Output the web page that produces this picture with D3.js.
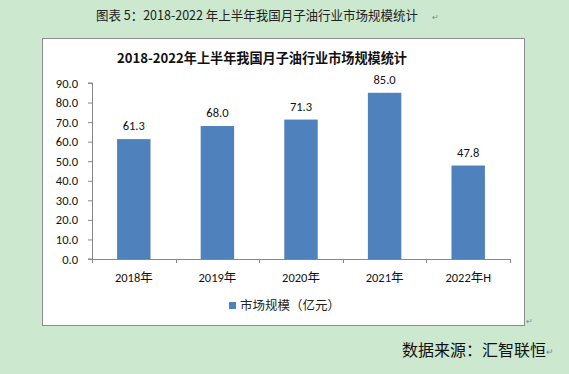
<!DOCTYPE html>
<html><head><meta charset="utf-8">
<script src="https://cdn.jsdelivr.net/npm/d3@7"></script>
<style>
body{margin:0;background:#cce8cf;}
svg{display:block;}
</style></head>
<body>
<svg id="c" width="569" height="374"></svg>
<script>
const categories = ["2018年","2019年","2020年","2021年","2022年H"];
const values = [61.3, 68.0, 71.3, 85.0, 47.8];
const yTicks = [0,10,20,30,40,50,60,70,80,90];
const seriesName = "市场规模（亿元）";
const docTitle = "图表 5：2018-2022 年上半年我国月子油行业市场规模统计";
const chartTitle = "2018-2022年上半年我国月子油行业市场规模统计";
const sourceText = "数据来源：汇智联恒";

(function(){
const svg = d3.select("#c");
const cjk = "'Noto Sans CJK SC', 'Noto Sans', sans-serif";
const lat = "Calibri, 'Liberation Sans', 'Noto Sans CJK SC', sans-serif";

svg.append("rect").attr("width",569).attr("height",374).attr("fill","#cce8cf");

svg.append("text").attr("x",96).attr("y",20).attr("textLength",322).attr("lengthAdjust","spacingAndGlyphs")
  .attr("font-family",cjk).attr("font-size",13).attr("fill","#222").text(docTitle);
svg.append("text").attr("x",432).attr("y",20).attr("font-family",cjk).attr("font-size",8).attr("fill","#888").text("↵");

// chart box
svg.append("rect").attr("x",42.5).attr("y",38.5).attr("width",482).attr("height",287)
  .attr("fill","#fff").attr("stroke","#8c8c8c").attr("stroke-width",1);

svg.append("text").attr("x",117).attr("y",63).attr("textLength",290).attr("lengthAdjust","spacingAndGlyphs")
  .attr("font-family",cjk).attr("font-size",13.5).attr("font-weight","bold").attr("fill","#111").text(chartTitle);

const pLeft=92, pRight=510, pTop=83, pBottom=259;
const x = d3.scaleBand().domain(categories).range([pLeft,pRight]).paddingInner(0.6).paddingOuter(0.3);
const y = d3.scaleLinear().domain([0,90]).range([pBottom,pTop]);

const g = svg.append("g");
const ya = g.append("g").attr("transform",`translate(${pLeft},0)`)
  .call(d3.axisLeft(y).tickValues(yTicks).tickFormat(d3.format(".1f")).tickSize(4).tickPadding(10));
ya.select(".domain").attr("stroke","#888").attr("d",`M-4,${pTop}H0.5V${pBottom}H-4`);
ya.selectAll(".tick line").attr("stroke","#888");
ya.selectAll("text").attr("font-family",lat).attr("font-size",12.5).attr("fill","#111");

const xa = g.append("g").attr("transform",`translate(0,${pBottom})`);
xa.append("line").attr("x1",pLeft).attr("x2",pRight).attr("y1",0.5).attr("y2",0.5).attr("stroke","#888");
const step = (pRight-pLeft)/categories.length;
d3.range(categories.length+1).forEach(i=>{
  const xx = Math.round(pLeft+i*step)+0.5;
  xa.append("line").attr("x1",xx).attr("x2",xx).attr("y1",0).attr("y2",4).attr("stroke","#888");
});
xa.selectAll("text.cat").data(categories).join("text").attr("class","cat")
  .attr("x",d=>x(d)+x.bandwidth()/2).attr("y",23).attr("text-anchor","middle")
  .attr("font-family",lat).attr("font-size",12.5).attr("fill","#111").text(d=>d);

g.selectAll("rect.bar").data(values).join("rect").attr("class","bar")
  .attr("x",(d,i)=>x(categories[i])).attr("width",x.bandwidth())
  .attr("y",d=>y(d)).attr("height",d=>pBottom-y(d)).attr("fill","#4f81bd");
g.selectAll("text.lbl").data(values).join("text").attr("class","lbl")
  .attr("x",(d,i)=>x(categories[i])+x.bandwidth()/2).attr("y",d=>y(d)-9)
  .attr("text-anchor","middle").attr("font-family",lat).attr("font-size",12.5).attr("fill","#111")
  .text(d=>d3.format(".1f")(d));

svg.append("rect").attr("x",229).attr("y",302).attr("width",7).attr("height",7).attr("fill","#4f81bd");
svg.append("text").attr("x",240).attr("y",310).attr("font-family",cjk).attr("font-size",12.5)
  .attr("fill","#222").text(seriesName);

svg.append("text").attr("x",526).attr("y",324).attr("font-family",cjk).attr("font-size",8).attr("fill","#888").text("↵");

svg.append("text").attr("x",402).attr("y",356).attr("font-family",cjk).attr("font-size",16)
  .attr("fill","#111").text(sourceText);
svg.append("text").attr("x",546).attr("y",355).attr("font-family",cjk).attr("font-size",9).attr("fill","#888").text("↵");
})();
</script>
</body></html>
